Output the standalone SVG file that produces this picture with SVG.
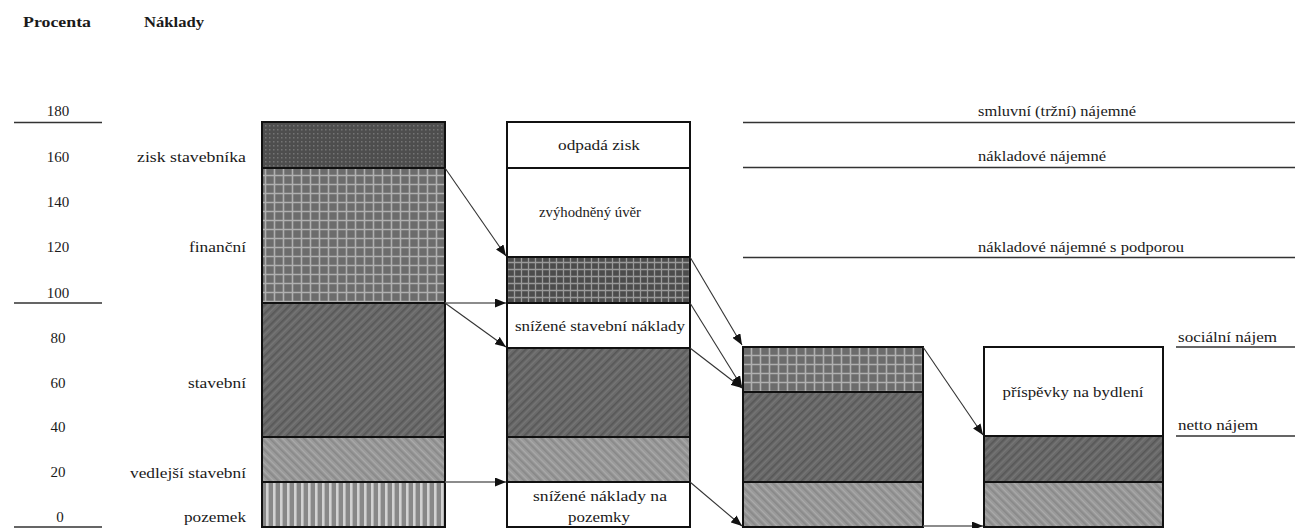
<svg xmlns="http://www.w3.org/2000/svg" width="1295" height="528" viewBox="0 0 1295 528">
  <style>
    text { font-family: "Liberation Serif", "Times New Roman", serif; font-size: 15px; fill: #1a1a1a; }
    .hdr { font-weight: bold; }
    .num { text-anchor: middle; }
    .lbl { text-anchor: end; }
    .mid { text-anchor: middle; }
    .seg { stroke: #111; stroke-width: 2; }
    .div { stroke: #111; stroke-width: 2; fill: none; }
    .rule { stroke: #333; stroke-width: 1.6; fill: none; }
    .conn { stroke: #333; stroke-width: 1.1; fill: none; marker-end: url(#ah); }
    .connG { stroke: #666; stroke-width: 1.6; fill: none; marker-end: url(#ah); }
  </style>
  <defs>
    <marker id="ah" markerUnits="userSpaceOnUse" markerWidth="12" markerHeight="9" refX="11" refY="4.5" orient="auto">
      <path d="M0,0 L11,4.5 L0,9 z" fill="#111"/>
    </marker>
    <pattern id="pDots" width="4" height="4" patternUnits="userSpaceOnUse">
      <rect width="4" height="4" fill="#4e4e4e"/>
      <rect x="1" y="1" width="1.5" height="1.5" fill="#747474"/>
    </pattern>
    <pattern id="pGrid" width="9" height="9" patternUnits="userSpaceOnUse">
      <rect width="9" height="9" fill="#6c6c6c"/>
      <path d="M0 4.5H9M4.5 0V9" stroke="#b0b0b0" stroke-width="1.6"/>
    </pattern>
    <pattern id="pGridDark" width="7" height="7" patternUnits="userSpaceOnUse">
      <rect width="7" height="7" fill="#4c4c4c"/>
      <path d="M0 3.5H7M3.5 0V7" stroke="#9a9a9a" stroke-width="1.3"/>
    </pattern>
    <pattern id="pHatchDark" width="6" height="6" patternUnits="userSpaceOnUse" patternTransform="rotate(45)">
      <rect width="6" height="6" fill="#6a6a6a"/>
      <rect width="1.6" height="6" fill="#575757"/>
      <rect x="3" width="1" height="6" fill="#767676"/>
    </pattern>
    <pattern id="pHatchLight" width="6" height="6" patternUnits="userSpaceOnUse" patternTransform="rotate(-45)">
      <rect width="6" height="6" fill="#9a9a9a"/>
      <rect width="1.6" height="6" fill="#888888"/>
      <rect x="3" width="1" height="6" fill="#aaaaaa"/>
    </pattern>
    <pattern id="pStripes" width="7" height="7" patternUnits="userSpaceOnUse">
      <rect width="7" height="7" fill="#888888"/>
      <rect x="0" width="2.6" height="7" fill="#d2d2d2"/>
    </pattern>
  </defs>
  <rect width="1295" height="528" fill="#fff"/>

  <g id="headers">
    <text class="hdr" x="23" y="27" textLength="68" lengthAdjust="spacingAndGlyphs">Procenta</text>
    <text class="hdr" x="144" y="27" textLength="60" lengthAdjust="spacingAndGlyphs">Náklady</text>
  </g>

  <g id="axis">
    <path class="rule" d="M14 122.5H102M14 303H102M14 527H102"/>
    <text class="num" x="58" y="116">180</text>
    <text class="num" x="58" y="162">160</text>
    <text class="num" x="58" y="207">140</text>
    <text class="num" x="58" y="252">120</text>
    <text class="num" x="58" y="298">100</text>
    <text class="num" x="58" y="343">80</text>
    <text class="num" x="58" y="388">60</text>
    <text class="num" x="58" y="432">40</text>
    <text class="num" x="58" y="477">20</text>
    <text class="num" x="60" y="522">0</text>
  </g>

  <g id="categories">
    <text class="lbl" x="246" y="162" textLength="109" lengthAdjust="spacingAndGlyphs">zisk stavebníka</text>
    <text class="lbl" x="246" y="252" textLength="57" lengthAdjust="spacingAndGlyphs">finanční</text>
    <text class="lbl" x="246" y="388" textLength="58" lengthAdjust="spacingAndGlyphs">stavební</text>
    <text class="lbl" x="246" y="478" textLength="116" lengthAdjust="spacingAndGlyphs">vedlejší stavební</text>
    <text class="lbl" x="246" y="522" textLength="62" lengthAdjust="spacingAndGlyphs">pozemek</text>
  </g>

  <g id="bar-naklady">
    <rect x="262" y="122" width="183" height="46" fill="url(#pDots)"/>
    <rect x="262" y="168" width="183" height="135" fill="url(#pGrid)"/>
    <rect x="262" y="303" width="183" height="134" fill="url(#pHatchDark)"/>
    <rect x="262" y="437" width="183" height="45" fill="url(#pHatchLight)"/>
    <rect x="262" y="482" width="183" height="45" fill="url(#pStripes)"/>
    <path class="div" d="M262 168H445M262 303H445M262 437H445M262 482H445"/>
    <rect x="262" y="122" width="183" height="405" fill="none" class="seg"/>
  </g>

  <g id="bar-podpora">
    <rect x="507" y="122" width="183" height="135" fill="#fff"/>
    <rect x="507" y="257" width="183" height="46" fill="url(#pGridDark)"/>
    <rect x="507" y="303" width="183" height="45" fill="#fff"/>
    <rect x="507" y="348" width="183" height="89" fill="url(#pHatchDark)"/>
    <rect x="507" y="437" width="183" height="45" fill="url(#pHatchLight)"/>
    <rect x="507" y="482" width="183" height="45" fill="#fff"/>
    <path class="div" d="M507 168H690M507 257H690M507 303H690M507 348H690M507 437H690M507 482H690"/>
    <rect x="507" y="122" width="183" height="405" fill="none" class="seg"/>
    <text class="mid" x="599" y="150" textLength="82" lengthAdjust="spacingAndGlyphs">odpadá zisk</text>
    <text class="mid" x="590" y="217" textLength="102" lengthAdjust="spacingAndGlyphs">zvýhodněný úvěr</text>
    <text class="mid" x="600" y="331" textLength="170" lengthAdjust="spacingAndGlyphs">snížené stavební náklady</text>
    <text class="mid" x="600" y="501" textLength="134" lengthAdjust="spacingAndGlyphs">snížené náklady na</text>
    <text class="mid" x="599" y="522" textLength="62" lengthAdjust="spacingAndGlyphs">pozemky</text>
  </g>

  <g id="bar-naklady-najemne">
    <rect x="743" y="347" width="180" height="45" fill="url(#pGrid)"/>
    <rect x="743" y="392" width="180" height="90" fill="url(#pHatchDark)"/>
    <rect x="743" y="482" width="180" height="45" fill="url(#pHatchLight)"/>
    <path class="div" d="M743 392H923M743 482H923"/>
    <rect x="743" y="347" width="180" height="180" fill="none" class="seg"/>
  </g>

  <g id="bar-socialni">
    <rect x="984" y="347" width="179" height="89" fill="#fff"/>
    <rect x="984" y="436" width="179" height="46" fill="url(#pHatchDark)"/>
    <rect x="984" y="482" width="179" height="45" fill="url(#pHatchLight)"/>
    <path class="div" d="M984 436H1163M984 482H1163"/>
    <rect x="984" y="347" width="179" height="180" fill="none" class="seg"/>
    <text class="mid" x="1073" y="397" textLength="141" lengthAdjust="spacingAndGlyphs">příspěvky na bydlení</text>
  </g>

  <g id="rent-levels">
    <path class="rule" d="M743 122.5H1295M743 167.5H1295M743 257.5H1295M1176 347H1295M1176 436H1295"/>
    <text x="978" y="116" textLength="158" lengthAdjust="spacingAndGlyphs">smluvní (tržní) nájemné</text>
    <text x="978" y="161" textLength="128" lengthAdjust="spacingAndGlyphs">nákladové nájemné</text>
    <text x="978" y="252" textLength="206" lengthAdjust="spacingAndGlyphs">nákladové nájemné s podporou</text>
    <text x="1178" y="342" textLength="99" lengthAdjust="spacingAndGlyphs">sociální nájem</text>
    <text x="1178" y="430" textLength="80" lengthAdjust="spacingAndGlyphs">netto nájem</text>
  </g>

  <g id="connectors">
    <path class="conn" d="M445 168L506 256"/>
    <path class="connG" d="M445 303H506"/>
    <path class="conn" d="M445 303L506 347"/>
    <path class="connG" d="M445 482H506"/>
    <path class="conn" d="M690 257L742 345"/>
    <path class="conn" d="M690 303L742 387"/>
    <path class="conn" d="M690 348L742 388"/>
    <path class="conn" d="M690 482L742 526"/>
    <path class="conn" d="M923 347L983 435"/>
    <path class="connG" d="M923 526H983"/>
  </g>
</svg>
